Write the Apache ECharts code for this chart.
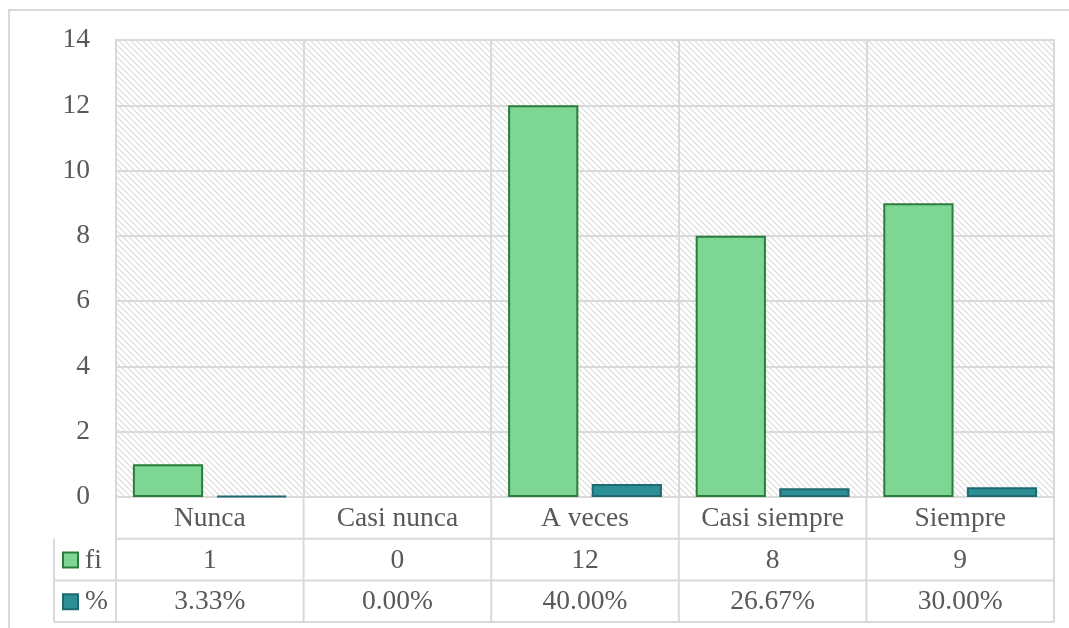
<!DOCTYPE html>
<html>
<head>
<meta charset="utf-8">
<script src="https://cdn.jsdelivr.net/npm/echarts@6/dist/echarts.min.js"></script>
<style>
html,body{margin:0;padding:0;background:#fff;}
#main{width:1069px;height:628px;}
</style>
</head>
<body>
<div id="main"></div>
<script>
let categorias=["Nunca","Casi nunca","A veces","Casi siempre","Siempre"];
let fi=[1,0,12,8,9];
let porcentaje=[0.0333,0,0.40,0.2667,0.30];
let porcentajeTxt=["3.33%","0.00%","40.00%","26.67%","30.00%"];
let yTicks=[0,2,4,6,8,10,12,14];

let gris="#d9d9d9";
let texto="#595959";
let fuente="Liberation Serif";
let tam=27.5;

// trama diagonal del fondo del área de trazado
let tile=document.createElement("canvas");
tile.width=6;tile.height=6;
let ctx=tile.getContext("2d");
ctx.fillStyle="#fff";
ctx.fillRect(0,0,6,6);
ctx.strokeStyle="#dadada";
ctx.lineWidth=1.1;
ctx.beginPath();
ctx.moveTo(-1,-1);ctx.lineTo(7,7);
ctx.moveTo(-4,2);ctx.lineTo(1,7);
ctx.moveTo(2,-4);ctx.lineTo(7,1);
ctx.stroke();

// sin borde en barras de valor cero
let barras=function(arr){
    return arr.map(function(v){
        return v===0?{value:v,itemStyle:{borderWidth:0}}:v;
    });
};

let myChart=echarts.init(document.getElementById("main"));

let option={
    animation:false,
    grid:{
        left:116,right:15,top:40,bottom:131,
        show:true,
        backgroundColor:{image:tile,repeat:"repeat"},
        borderColor:gris,borderWidth:2
    },
    xAxis:{
        type:"category",
        data:categorias,
        axisLine:{lineStyle:{color:gris,width:2}},
        axisTick:{show:false},
        axisLabel:{show:false},
        splitLine:{show:true,lineStyle:{color:gris,width:2}}
    },
    yAxis:{
        type:"value",
        min:yTicks[0],max:yTicks[yTicks.length-1],interval:2,
        axisLine:{show:false},
        axisTick:{show:false},
        axisLabel:{color:texto,fontFamily:fuente,fontSize:tam,margin:26},
        splitLine:{lineStyle:{color:gris,width:2}}
    },
    series:[{
        name:"fi",
        type:"bar",
        data:barras(fi),
        barGap:"19%",
        barCategoryGap:"18%",
        itemStyle:{color:"#7dd694",borderColor:"#2b7d3c",borderWidth:2}
    },{
        name:"%",
        type:"bar",
        data:barras(porcentaje),
        itemStyle:{color:"#2d8f96",borderColor:"#1e6a70",borderWidth:2}
    }]
};
myChart.setOption(option);

// tabla de datos debajo del gráfico
let rect=myChart.getModel().getComponent("grid",0).coordinateSystem.getRect();
let izq=rect.x,der=rect.x+rect.width,base=rect.y+rect.height;
let fila=41.7;
let leyIzq=54;
let g=[];
let linea=function(a,b,c,d){
    g.push({type:"line",shape:{x1:a,y1:b,x2:c,y2:d},style:{stroke:gris,lineWidth:2},z:10});
};
let txt=function(s,x,y,align){
    g.push({type:"text",x:x,y:y,style:{text:s,fill:texto,font:tam+"px '"+fuente+"'",align:align||"center",verticalAlign:"middle"},z:11});
};
// marco exterior
g.push({type:"rect",shape:{x:9,y:10,width:1080,height:640},style:{fill:null,stroke:gris,lineWidth:2},z:1});
for(let k=1;k<=3;k++){
    linea(k==1?izq:leyIzq,base+fila*k,der,base+fila*k);
}
linea(leyIzq,base+fila,leyIzq,base+fila*3);
let bordes=[izq];
categorias.forEach(function(c,i){
    let w=rect.width/categorias.length;
    bordes.push(izq+w*(i+1));
});
bordes.forEach(function(bx){linea(bx,base,bx,base+fila*3);});
categorias.forEach(function(c,i){
    let cx=myChart.convertToPixel({xAxisIndex:0},c);
    txt(c,cx,base+fila*0.5+1);
    txt(String(fi[i]),cx,base+fila*1.5+1);
    txt(porcentajeTxt[i],cx,base+fila*2.5+1);
});
// claves de leyenda
let claves=[["fi","#7dd694","#2b7d3c"],["%","#2d8f96","#1e6a70"]];
claves.forEach(function(c,i){
    let cy=base+fila*(i+1.5);
    g.push({type:"rect",shape:{x:63,y:cy-7,width:15,height:15},style:{fill:c[1],stroke:c[2],lineWidth:2},z:11});
    txt(c[0],85,cy+1,"left");
});
myChart.setOption({graphic:{elements:g}});
</script>
</body>
</html>
